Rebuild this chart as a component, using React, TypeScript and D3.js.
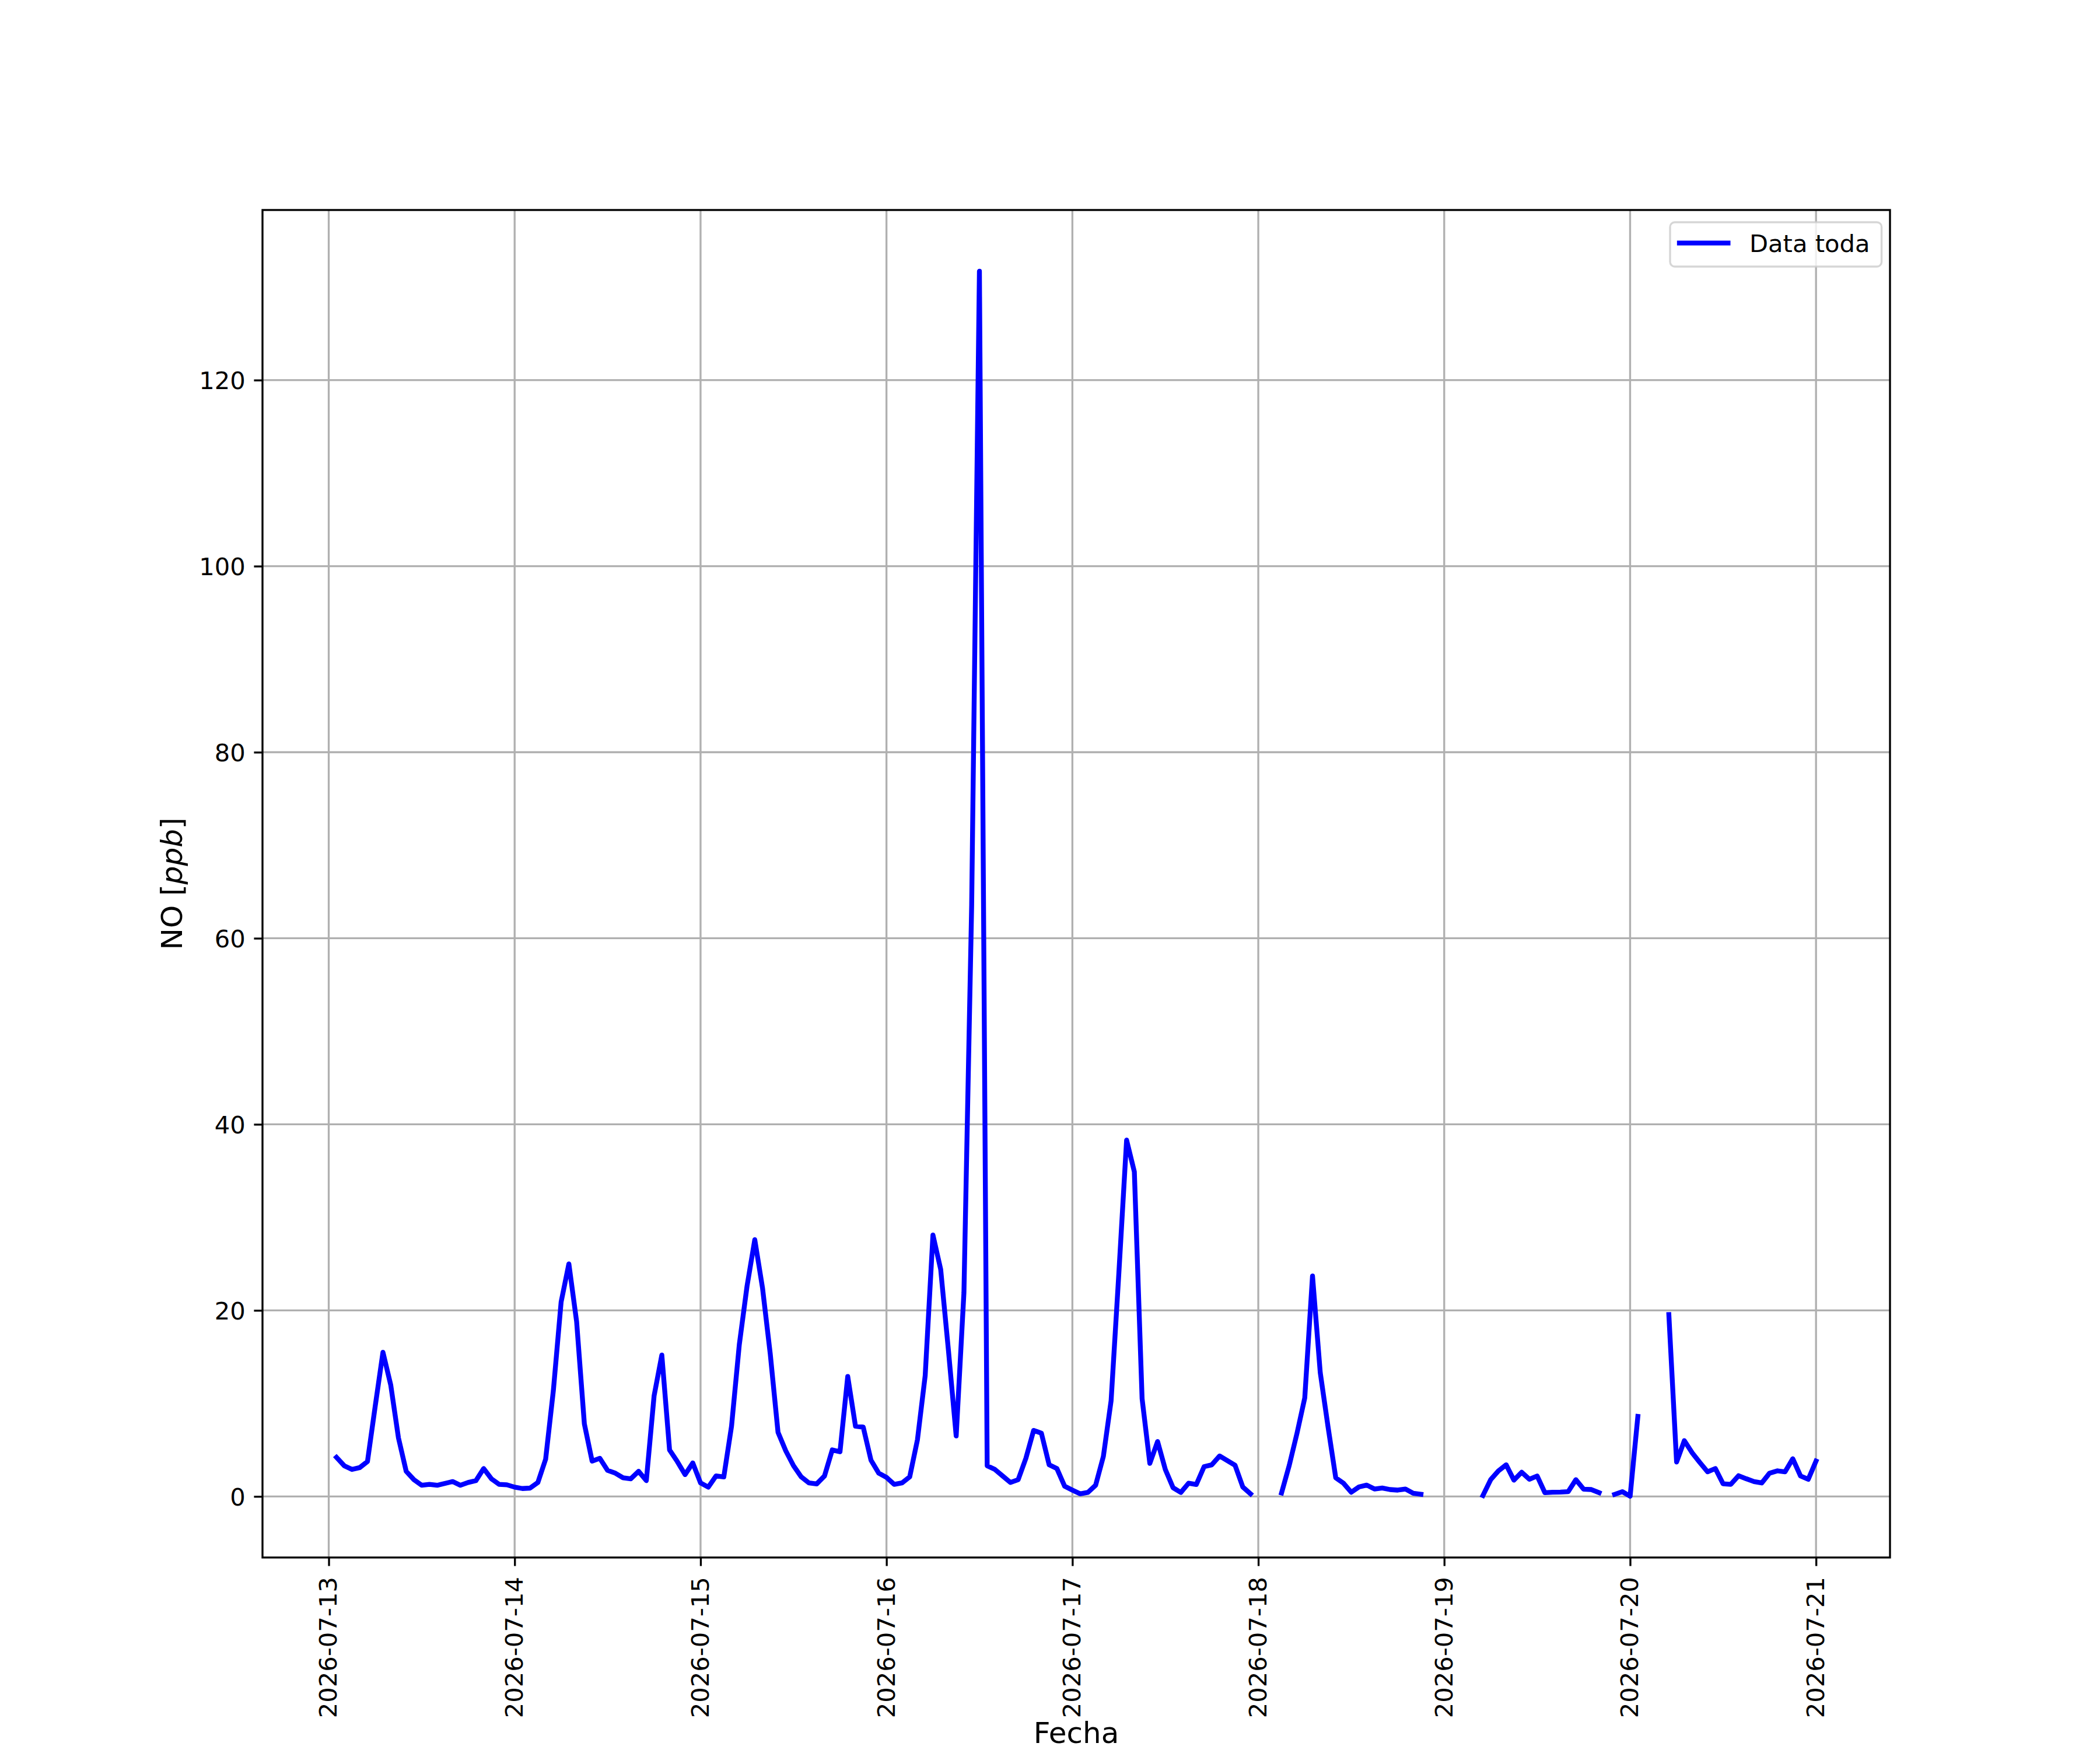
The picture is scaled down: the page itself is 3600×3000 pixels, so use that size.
import React, { useRef, useEffect } from "react";
import * as d3 from "d3";

// hourly NO readings in ppb, one array per day (index = hour, null = no data)
const jul13 = [null, 4.2, 3.3, 2.9, 3.1, 3.75, 9.7, 15.5, 12.0, 6.3, 2.7, 1.8, 1.2, 1.3, 1.2, 1.4, 1.6, 1.2, 1.5, 1.7, 3.0, 1.9, 1.3, 1.25];
const jul14 = [1.0, 0.85, 0.9, 1.5, 4.0, 11.4, 20.9, 25.0, 18.8, 7.8, 3.8, 4.1, 2.8, 2.5, 2.0, 1.9, 2.7, 1.7, 10.8, 15.2, 5.0, 3.75, 2.35, 3.6];
const jul15 = [1.45, 1.0, 2.2, 2.1, 7.55, 16.3, 22.6, 27.6, 22.4, 15.3, 6.9, 4.9, 3.3, 2.1, 1.45, 1.35, 2.2, 5.0, 4.8, 12.9, 7.55, 7.45, 3.9, 2.5];
const jul16 = [2.05, 1.3, 1.45, 2.1, 6.1, 13.0, 28.1, 24.4, 15.7, 6.5, 21.9, 63.6, 131.7, 3.3, 2.9, 2.2, 1.5, 1.8, 4.1, 7.1, 6.8, 3.4, 3.0, 1.1];
const jul17 = [0.68, 0.28, 0.43, 1.2, 4.3, 10.3, 24.0, 38.3, 34.9, 10.5, 3.55, 5.9, 2.9, 0.94, 0.43, 1.42, 1.28, 3.2, 3.4, 4.35, 3.85, 3.35, 1.02, 0.28];
const jul18 = [null, null, null, 0.37, 3.35, 6.8, 10.6, 23.7, 13.3, 7.5, 2.0, 1.42, 0.45, 1.02, 1.22, 0.8, 0.91, 0.74, 0.68, 0.8, 0.34, 0.23, null, null];
const jul19 = [null, null, null, null, null, 0.1, 1.8, 2.75, 3.4, 1.75, 2.6, 1.85, 2.2, 0.4, 0.45, 0.47, 0.51, 1.8, 0.78, 0.74, 0.4, null, 0.22, 0.51];
const jul20 = [0.02, 8.6, null, null, null, 19.55, 3.7, 6.0, 4.7, 3.65, 2.65, 3.0, 1.36, 1.3, 2.23, 1.9, 1.6, 1.45, 2.5, 2.75, 2.65, 4.05, 2.2, 1.85];
const jul21 = [3.8];

const days = ["2026-07-13", "2026-07-14", "2026-07-15", "2026-07-16", "2026-07-17", "2026-07-18", "2026-07-19", "2026-07-20", "2026-07-21"];
const dayValues = [jul13, jul14, jul15, jul16, jul17, jul18, jul19, jul20, jul21];
const yTicks = [0, 20, 40, 60, 80, 100, 120];
const seriesLabel = "Data toda";
const xLabel = "Fecha";

const App: React.FC = () => {
  const chartRef = useRef<SVGSVGElement | null>(null);

  useEffect(() => {
    document.body.style.margin = "0";
    if (!chartRef.current) return;
    const svg = d3.select(chartRef.current);
    svg.selectAll("*").remove();

    const width = 3600;
    const height = 3000;
    const margin = { top: 360, right: 360, bottom: 330, left: 450 };
    const pt = 300 / 72; // figure was 300 dpi
    const tickFont = 10 * pt;
    const labelFont = 12 * pt;
    const tickLen = 3.5 * pt;
    const thin = 0.8 * pt;

    svg.attr("width", width).attr("height", height).attr("font-family", "DejaVu Sans");
    svg.append("rect").attr("width", width).attr("height", height).attr("fill", "#fff");

    const data = days.flatMap((day, i) =>
      dayValues[i].map((v, h) => ({
        t: new Date(`${day}T${String(h).padStart(2, "0")}:00:00Z`),
        v,
      }))
    );
    const valid = data.filter((d) => d.v != null);

    const [t0, t1] = d3.extent(valid, (d) => d.t.getTime()) as [number, number];
    const tPad = (t1 - t0) * 0.05;
    const x = d3
      .scaleUtc()
      .domain([new Date(t0 - tPad), new Date(t1 + tPad)])
      .range([margin.left, width - margin.right]);

    const [v0, v1] = d3.extent(valid, (d) => d.v as number) as [number, number];
    const vPad = (v1 - v0) * 0.05;
    const y = d3
      .scaleLinear()
      .domain([v0 - vPad, v1 + vPad])
      .range([height - margin.bottom, margin.top]);

    const tickDates = days.map((d) => new Date(`${d}T00:00:00Z`));
    const left = margin.left;
    const right = width - margin.right;
    const top = margin.top;
    const bottom = height - margin.bottom;

    // grid
    const grid = svg.append("g").attr("stroke", "#b0b0b0").attr("stroke-width", thin);
    grid
      .selectAll("line.gx")
      .data(tickDates)
      .enter()
      .append("line")
      .attr("x1", (d) => x(d))
      .attr("x2", (d) => x(d))
      .attr("y1", top)
      .attr("y2", bottom);
    grid
      .selectAll("line.gy")
      .data(yTicks)
      .enter()
      .append("line")
      .attr("x1", left)
      .attr("x2", right)
      .attr("y1", (d) => y(d))
      .attr("y2", (d) => y(d));

    // series
    const line = d3
      .line<{ t: Date; v: number | null }>()
      .defined((d) => d.v != null)
      .x((d) => x(d.t))
      .y((d) => y(d.v as number));

    svg
      .append("path")
      .datum(data)
      .attr("d", line)
      .attr("fill", "none")
      .attr("stroke", "#0000ff")
      .attr("stroke-width", 2 * pt)
      .attr("stroke-linejoin", "round")
      .attr("stroke-linecap", "square");

    // x axis
    const gx = svg
      .append("g")
      .attr("transform", `translate(0,${bottom})`)
      .call(
        d3
          .axisBottom(x)
          .tickValues(tickDates)
          .tickFormat((d) => d3.utcFormat("%Y-%m-%d")(d as Date))
          .tickSize(tickLen)
          .tickSizeOuter(0)
      );
    gx.select(".domain").remove();
    gx.selectAll(".tick line").attr("stroke", "#000").attr("stroke-width", thin);
    gx.selectAll(".tick text")
      .attr("font-size", tickFont)
      .attr("font-family", "DejaVu Sans")
      .attr("fill", "#000")
      .attr("text-anchor", "end")
      .attr("transform", "rotate(-90)")
      .attr("x", -(tickLen + 3.5 * pt + 4))
      .attr("y", 13.4)
      .attr("dy", null);

    // y axis
    const gy = svg
      .append("g")
      .attr("transform", `translate(${left},0)`)
      .call(d3.axisLeft(y).tickValues(yTicks).tickSize(tickLen).tickSizeOuter(0).tickPadding(3.5 * pt));
    gy.select(".domain").remove();
    gy.selectAll(".tick line").attr("stroke", "#000").attr("stroke-width", thin);
    gy.selectAll(".tick text")
      .attr("font-size", tickFont)
      .attr("font-family", "DejaVu Sans")
      .attr("fill", "#000")
      .attr("dy", "0.36em");

    // spines
    svg
      .append("rect")
      .attr("x", left)
      .attr("y", top)
      .attr("width", right - left)
      .attr("height", bottom - top)
      .attr("fill", "none")
      .attr("stroke", "#000")
      .attr("stroke-width", thin);

    // axis labels
    svg
      .append("text")
      .attr("x", (left + right) / 2)
      .attr("y", 2988)
      .attr("text-anchor", "middle")
      .attr("font-size", labelFont)
      .text(xLabel);

    const yl = svg
      .append("text")
      .attr("transform", `translate(311.7,${(top + bottom) / 2}) rotate(-90)`)
      .attr("text-anchor", "middle")
      .attr("font-size", labelFont);
    yl.append("tspan").text("NO [");
    yl.append("tspan").attr("font-style", "italic").text("ppb");
    yl.append("tspan").text("]");

    // legend
    const lg = svg.append("g").attr("transform", `translate(${right - 377},${top + 21})`);
    lg.append("rect")
      .attr("width", 362.6)
      .attr("height", 76)
      .attr("rx", 8)
      .attr("fill", "#fff")
      .attr("fill-opacity", 0.8)
      .attr("stroke", "#cccccc")
      .attr("stroke-opacity", 0.8)
      .attr("stroke-width", thin);
    lg.append("line")
      .attr("x1", 16)
      .attr("x2", 16 + 2 * tickFont)
      .attr("y1", 35.6)
      .attr("y2", 35.6)
      .attr("stroke", "#0000ff")
      .attr("stroke-width", 2 * pt)
      .attr("stroke-linecap", "square");
    lg.append("text")
      .attr("x", 136)
      .attr("y", 51)
      .attr("font-size", tickFont)
      .text(seriesLabel);
  }, []);

  return (
    <div style={{ position: "absolute", left: 0, top: 0 }}>
      <svg ref={chartRef} style={{ display: "block" }} />
    </div>
  );
};

export default App;
